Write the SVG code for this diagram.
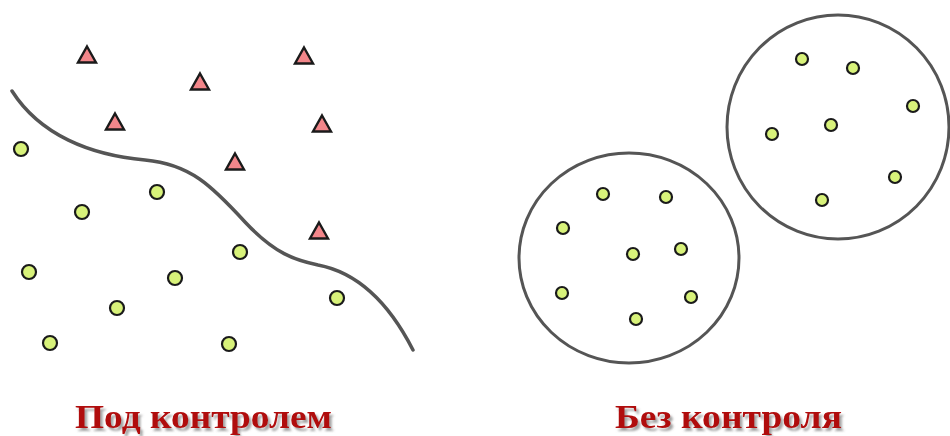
<svg xmlns="http://www.w3.org/2000/svg" width="950" height="436" viewBox="0 0 950 436">
<style>
.dot{fill:#d8f27a;stroke:#1a1a1a;stroke-width:2.2}
.tri{fill:#f2868a;stroke:#1a1a1a;stroke-width:2.4;stroke-linejoin:miter}
.line{fill:none;stroke:#555;stroke-width:3.5;stroke-linecap:round}
.ring{fill:none;stroke:#555;stroke-width:3}
.lbl{font-family:"Liberation Serif","Times New Roman",serif;font-weight:bold;font-size:33px;fill:#b00808;text-anchor:start;filter:url(#shadow)}
</style>
<defs>
<filter id="shadow" x="-5%" y="-20%" width="112%" height="145%"><feDropShadow dx="2.5" dy="3" stdDeviation="1.3" flood-color="#666" flood-opacity="0.6"/></filter>
<path id="t" d="M0,-8.5 L9,7.5 L-9,7.5 Z"/>
</defs>
<g id="left-panel">
<g id="boundary"><path class="line" d="M12,91 C40,135 90,155 145,160 C190,164 212,186 245,222 C275,254 295,260 318,265 C360,273 390,305 413,350"/></g>
<g id="triangles">
<use href="#t" class="tri" x="87" y="55"/>
<use href="#t" class="tri" x="304" y="56"/>
<use href="#t" class="tri" x="200" y="82"/>
<use href="#t" class="tri" x="115" y="122"/>
<use href="#t" class="tri" x="322" y="124"/>
<use href="#t" class="tri" x="235" y="162"/>
<use href="#t" class="tri" x="319" y="231"/>
</g>
<g id="left-dots">
<circle class="dot" cx="21" cy="149" r="7"/>
<circle class="dot" cx="157" cy="192" r="7"/>
<circle class="dot" cx="82" cy="212" r="7"/>
<circle class="dot" cx="240" cy="252" r="7"/>
<circle class="dot" cx="29" cy="272" r="7"/>
<circle class="dot" cx="175" cy="278" r="7"/>
<circle class="dot" cx="337" cy="298" r="7"/>
<circle class="dot" cx="117" cy="308" r="7"/>
<circle class="dot" cx="50" cy="343" r="7"/>
<circle class="dot" cx="229" cy="344" r="7"/>
</g>
</g>
<g id="cluster-a">
<ellipse class="ring" cx="629" cy="258" rx="110" ry="105"/>
<circle class="dot" cx="603" cy="194" r="6"/>
<circle class="dot" cx="666" cy="197" r="6"/>
<circle class="dot" cx="563" cy="228" r="6"/>
<circle class="dot" cx="633" cy="254" r="6"/>
<circle class="dot" cx="681" cy="249" r="6"/>
<circle class="dot" cx="562" cy="293" r="6"/>
<circle class="dot" cx="691" cy="297" r="6"/>
<circle class="dot" cx="636" cy="319" r="6"/>
</g>
<g id="cluster-b">
<ellipse class="ring" cx="838" cy="127" rx="111" ry="112"/>
<circle class="dot" cx="802" cy="59" r="6"/>
<circle class="dot" cx="853" cy="68" r="6"/>
<circle class="dot" cx="913" cy="106" r="6"/>
<circle class="dot" cx="831" cy="125" r="6"/>
<circle class="dot" cx="772" cy="134" r="6"/>
<circle class="dot" cx="895" cy="177" r="6"/>
<circle class="dot" cx="822" cy="200" r="6"/>
</g>
<g id="label-left">
<text class="lbl" x="75" y="428" textLength="257" lengthAdjust="spacingAndGlyphs">Под контролем</text>
</g>
<g id="label-right">
<text class="lbl" x="615" y="428" textLength="227" lengthAdjust="spacingAndGlyphs">Без контроля</text>
</g>
</svg>
